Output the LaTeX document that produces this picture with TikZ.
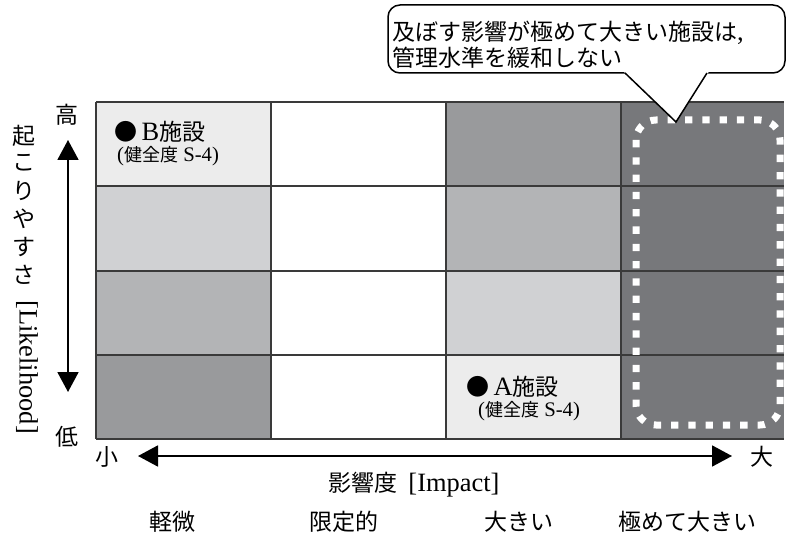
\documentclass[tikz,border=0pt]{standalone}
\usepackage{fontspec}
\setmainfont{Liberation Serif}[Scale=1.15]
\newfontfamily\cjk{Noto Sans CJK JP}
\usetikzlibrary{arrows.meta}
\definecolor{gA}{HTML}{ECECEC}
\definecolor{gB}{HTML}{D0D1D3}
\definecolor{gC}{HTML}{B3B4B6}
\definecolor{gD}{HTML}{999A9C}
\definecolor{gE}{HTML}{77787B}
\definecolor{gridline}{HTML}{3A3A3A}
\newcommand\jfs[1]{\fontsize{#1}{#1}\selectfont}
\tikzset{
  lab/.style={inner sep=0pt, font=\jfs{23}},
  small/.style={inner sep=0pt, font=\jfs{18}},
  axisarrow/.style={line width=1.8pt, -{Triangle[length=20pt,width=21pt]}},
  gridl/.style={draw=gridline, line width=1.2pt},
  dots/.style={draw=white, line width=7pt, dash pattern=on 7.3pt off 10pt, rounded corners=20pt}
}
\begin{document}
\begin{tikzpicture}[x=1pt,y=-1pt]
\useasboundingbox (0,0) rectangle (787,537);
% cells
\fill[gA] (96,102) rectangle (271,186);
\fill[gB] (96,186) rectangle (271,271);
\fill[gC] (96,271) rectangle (271,355);
\fill[gD] (96,355) rectangle (271,439);
\fill[white] (271,102) rectangle (446,439);
\fill[gD] (446,102) rectangle (621,186);
\fill[gC] (446,186) rectangle (621,271);
\fill[gB] (446,271) rectangle (621,355);
\fill[gA] (446,355) rectangle (621,439);
\fill[gE] (621,102) rectangle (784,439);
% grid lines
\foreach \yy in {102,186,271,355,439} \draw[gridl] (96,\yy) -- (784,\yy);
\foreach \xx in {96,271,446,621} \draw[gridl] (\xx,102) -- (\xx,439);
% dotted frame
\draw[dots] (636,120) rectangle (780,425);
% facility labels
\node[lab, anchor=west] (B) at (114,132) {{\cjk ●}\,B{\cjk 施設}};
\node[small, anchor=west] (Bs) at (117,156) {({\cjk 健全度} S-4)};
\node[lab, anchor=west] (A) at (466,387) {{\cjk ●}\,A{\cjk 施設}};
\node[small, anchor=west] (As) at (478,411) {({\cjk 健全度} S-4)};
% callout
\draw[fill=white, line width=1.5pt, rounded corners=12pt] (388,5) rectangle (785,73);
\fill[white] (622,70) -- (676,122) -- (710,70) -- cycle;
\coordinate (pl) at (625,73);
\coordinate (pt) at (676,122);
\coordinate (pr) at (707,73);
\draw[line width=1.5pt, line join=miter] (pl) -- (pt) -- (pr);
\node[lab, anchor=west] (c1) at (392,33) {{\cjk 及ぼす影響が極めて大きい施設は},};
\node[lab, anchor=west] (c2) at (392,58) {{\cjk 管理水準を緩和しない}};
% vertical axis
\node[lab] (hi) at (67,115) {\cjk 高};
\node[lab] (lo) at (67,437) {\cjk 低};
\coordinate (vm) at (68,266);
\coordinate (vt) at (68,140);
\coordinate (vb) at (68,392);
\draw[axisarrow] (vm) -- (vt);
\draw[axisarrow] (vm) -- (vb);
% horizontal axis
\node[lab] (sm) at (107,457) {\cjk 小};
\node[lab] (bg) at (762,457) {\cjk 大};
\coordinate (hm) at (435,456);
\coordinate (hl) at (138,456);
\coordinate (hr) at (732,456);
\draw[axisarrow] (hm) -- (hl);
\draw[axisarrow] (hm) -- (hr);
% vertical title
\node[lab] (v1) at (24,136) {\cjk 起};
\node[lab] (v2) at (24,163) {\cjk こ};
\node[lab] (v3) at (24,191) {\cjk り};
\node[lab] (v4) at (24,219) {\cjk や};
\node[lab] (v5) at (24,247) {\cjk す};
\node[lab] (v6) at (24,275) {\cjk さ};
\node[lab, rotate=-90, anchor=west] (v7) at (27,300) {[Likelihood]};
% horizontal title and categories
\node[lab] (ht) at (414,485) {{\cjk 影響度}\ \,[Impact]};
\node[lab] (k1) at (172,522) {\cjk 軽微};
\node[lab] (k2) at (344,522) {\cjk 限定的};
\node[lab] (k3) at (519,522) {\cjk 大きい};
\node[lab] (k4) at (687,522) {\cjk 極めて大きい};
\end{tikzpicture}
\end{document}
